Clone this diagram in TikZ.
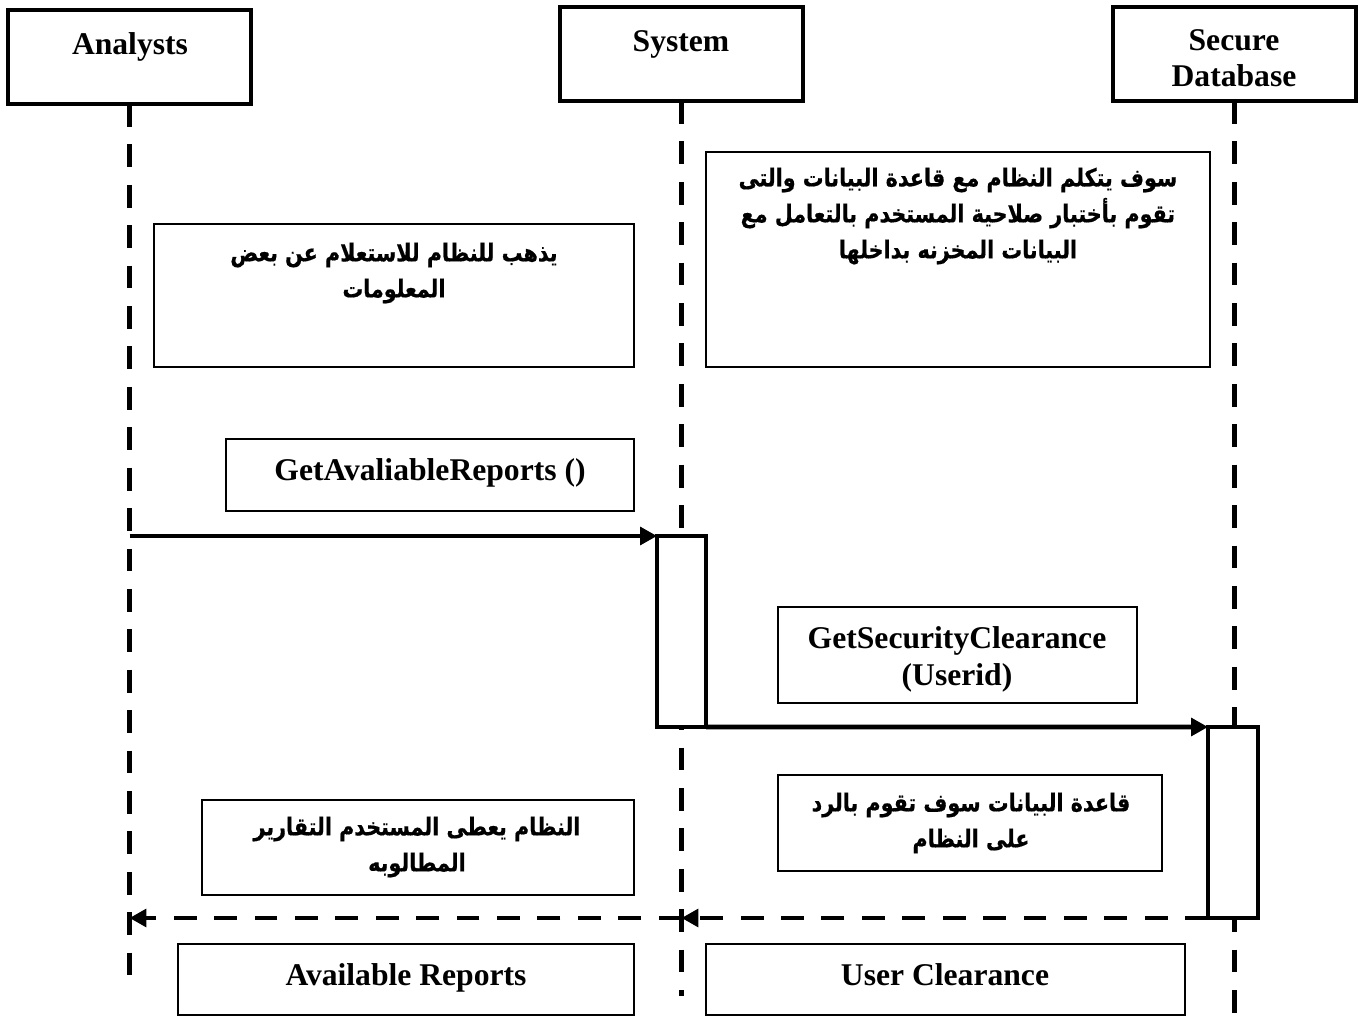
\documentclass[tikz,border=0pt]{standalone}
\usepackage{fontspec}
\setmainfont{Liberation Serif}
\newfontfamily\arabicfont[Script=Arabic,FakeStretch=0.84,FakeBold=0.6]{DejaVu Sans}
\TeXXeTstate=1
\usetikzlibrary{arrows.meta,fit}
\begin{document}
\begin{tikzpicture}[x=0.02cm,y=-0.02cm,
  headbox/.style={draw, line width=2.8pt, inner sep=0pt, outer sep=0pt},
  msgbox/.style={draw, line width=1.1pt, inner sep=0pt, outer sep=0pt},
  actbox/.style={draw, line width=2.8pt, fill=white, inner sep=0pt, outer sep=0pt},
  lifeline/.style={line width=2.8pt, dash pattern=on 13pt off 10pt},
  lbl/.style={font=\bfseries\fontsize{18}{21}\selectfont, align=center, inner sep=0pt, text depth=0pt},
  albl/.style={font=\arabicfont\bfseries\fontsize{14}{20.5}\selectfont, align=center, inner sep=0pt},
  call/.style={line width=2.8pt, -{Triangle[length=9.6pt,width=10pt]}},
  ret/.style={line width=2.8pt, dash pattern=on 13pt off 10pt, -{Triangle[length=9.6pt,width=10pt]}}]
\fill[white] (0,0) rectangle (1359,1023);
\useasboundingbox (0,0) rectangle (1359,1023);
% heads
\node[headbox, fit={(8,10)(251,104)}] (an) {};
\node[headbox, fit={(560,7)(803,101)}] (sys) {};
\node[headbox, fit={(1113,7)(1356,101)}] (db) {};
\node[lbl] (anlbl) at (130,44) {Analysts};
\node[lbl] (syslbl) at (681,41) {System};
\node[lbl] (dblbl) at (1234,58) {Secure\\Database};
% lifelines
\coordinate (anend) at (131,992);
\coordinate (sysend) at (681,996);
\coordinate (dbend) at (1234,1023);
\draw[lifeline] (an.south) -- (an.south |- anend);
\draw[lifeline] (sys.south) -- (sys.south |- sysend);
\draw[lifeline] (db.south) -- (db.south |- dbend);
% message boxes
\node[msgbox, fit={(154,224)(634,367)}] (b1) {};
\node[albl] (b1t) at (394,273) {\beginR يذهب للنظام للاستعلام عن بعض\endR\\\beginR المعلومات\endR};
\node[msgbox, fit={(706,152)(1210,367)}] (b2) {};
\node[albl] (b2t) at (958,216) {\beginR سوف يتكلم النظام مع قاعدة البيانات والتى\endR\\\beginR تقوم بأختبار صلاحية المستخدم بالتعامل مع\endR\\\beginR البيانات المخزنه بداخلها\endR};
\node[msgbox, fit={(226,439)(634,511)}] (b3) {};
\node[lbl] (b3t) at (430,470) {GetAvaliableReports ()};
\node[msgbox, fit={(778,607)(1137,703)}] (b4) {};
\node[lbl] (b4t) at (957,656) {GetSecurityClearance\\(Userid)};
\node[msgbox, fit={(778,775)(1162,871)}] (b5) {};
\node[albl] (b5t) at (971,823) {\beginR قاعدة البيانات سوف تقوم بالرد\endR\\\beginR على النظام\endR};
\node[msgbox, fit={(202,800)(634,895)}] (b6) {};
\node[albl] (b6t) at (417,847) {\beginR النظام يعطى المستخدم التقارير\endR\\\beginR المطالوبه\endR};
\node[msgbox, fit={(178,944)(634,1015)}] (b7) {};
\node[lbl] (b7t) at (406,975) {Available Reports};
\node[msgbox, fit={(706,944)(1185,1015)}] (b8) {};
\node[lbl] (b8t) at (945,975) {User Clearance};
% activations
\node[actbox, fit={(657,536)(706,727)}] (sact) {};
\node[actbox, fit={(1208,727)(1258,918)}] (dact) {};
% messages
\draw[call] (an.south |- sact.north west) -- (sact.north west);
\draw[call] (sact.south east) -- (dact.north west);
\coordinate (sret) at (sys.south |- dact.south west);
\draw[ret] (dact.south west) -- (sret);
\draw[ret] (sret) -- (an.south |- sret);
\end{tikzpicture}
\end{document}
